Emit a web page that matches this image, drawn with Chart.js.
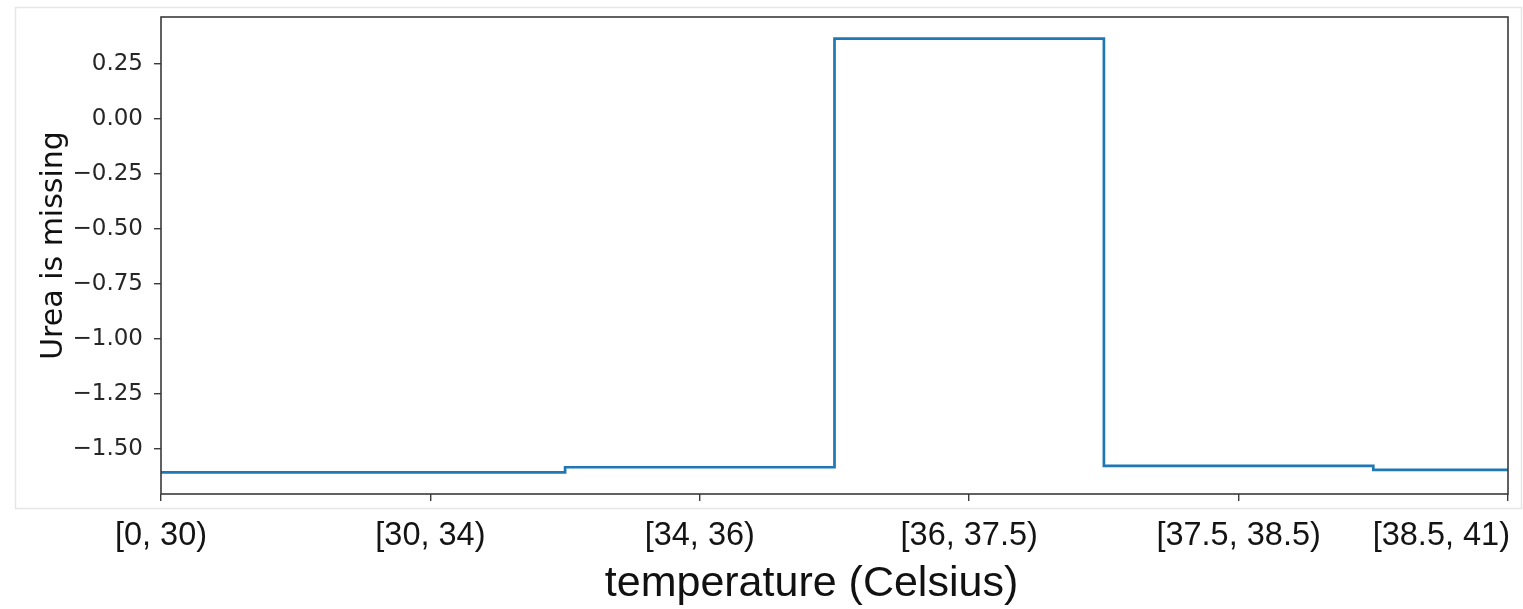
<!DOCTYPE html>
<html>
<head>
<meta charset="utf-8">
<title>Urea is missing vs temperature</title>
<script src="https://cdn.jsdelivr.net/npm/chart.js@4.4.0/dist/chart.umd.min.js"></script>
<style>
  html, body { margin: 0; padding: 0; background: #fff; }
  #wrap { width: 1523px; height: 609px; position: relative; }
  #grafica { display: block; }
</style>
</head>
<body>
<div id="wrap"><canvas id="grafica" width="1523" height="609"></canvas></div>
<script>
// categorias de temperatura y valores de la curva
const categorias = ['[0, 30)', '[30, 34)', '[34, 36)', '[36, 37.5)', '[37.5, 38.5)', '[38.5, 41)'];
const ureaMissing = [-1.608, -1.608, -1.585, 0.365, -1.579, -1.597];
const yTicks = [0.25, 0.00, -0.25, -0.50, -0.75, -1.00, -1.25, -1.50];
const tituloX = 'temperature (Celsius)';
const tituloY = 'Urea is missing';

// margen de 5% como matplotlib
const yMin = Math.min(...ureaMissing);
const yMax = Math.max(...ureaMissing);
const margen = (yMax - yMin) * 0.05;

const puntos = ureaMissing.map(function(v, i){ return {x: i, y: v}; });

// marco del eje, borde exterior, etiquetas y titulos
const marco = {
  id: 'marco',
  beforeDraw(chart) {
    const ctx = chart.ctx;
    ctx.save();
    ctx.strokeStyle = '#e6e6e6';
    ctx.lineWidth = 1.5;
    ctx.strokeRect(15.5, 7.5, 1506, 501);
    ctx.restore();
  },
  afterDraw(chart) {
    const ctx = chart.ctx;
    const a = chart.chartArea;
    ctx.save();
    ctx.strokeStyle = '#3a3a3a';
    ctx.lineWidth = 1.6;
    ctx.strokeRect(a.left, a.top, a.right - a.left, a.bottom - a.top);

    // etiquetas de categorias
    const xs = chart.scales.x;
    ctx.font = '32.5px "Liberation Sans", Arial, sans-serif';
    ctx.fillStyle = '#141414';
    ctx.textBaseline = 'alphabetic';
    ctx.textAlign = 'left';
    categorias.forEach(function(txt, i){
      const px = xs.getPixelForValue(i);
      const w = ctx.measureText(txt).width;
      let x0 = px - w / 2;
      if (x0 + w > a.right + 2) x0 = a.right + 2 - w;
      ctx.fillText(txt, x0, 545);
    });

    // titulo del eje x
    ctx.font = '43px "Liberation Sans", Arial, sans-serif';
    ctx.fillStyle = '#111';
    ctx.textAlign = 'center';
    ctx.fillText(tituloX, (a.left + a.right) / 2 - 23, 596);

    // titulo del eje y
    ctx.translate(62, (a.top + a.bottom) / 2 - 10);
    ctx.rotate(-Math.PI / 2);
    ctx.font = '30px "DejaVu Sans", sans-serif';
    ctx.fillText(tituloY, 0, 0);
    ctx.restore();
  }
};

const config = {
  type: 'line',
  data: {
    datasets: [{
      label: tituloY,
      data: puntos,
      stepped: 'middle',
      borderColor: '#1f77b4',
      borderWidth: 2.7,
      pointRadius: 0,
      fill: false
    }]
  },
  options: {
    responsive: false,
    animation: false,
    devicePixelRatio: 1,
    layout: { padding: { left: 0, top: 17, right: 15, bottom: 0 } },
    plugins: {
      legend: { display: false },
      tooltip: { enabled: false }
    },
    scales: {
      x: {
        type: 'linear',
        min: 0,
        max: categorias.length - 1,
        grid: { drawOnChartArea: false, drawTicks: true, tickLength: 7, color: '#3a3a3a', lineWidth: 1.4 },
        border: { display: false },
        ticks: { stepSize: 1, display: false },
        afterFit: function(scale){
          scale.height = 115;
          scale.paddingLeft = 0;
          scale.paddingRight = 0;
        }
      },
      y: {
        min: yMin - margen,
        max: yMax + margen,
        grid: { drawOnChartArea: false, drawTicks: true, tickLength: 7, color: '#3a3a3a', lineWidth: 1.4 },
        border: { display: false },
        afterBuildTicks: function(scale){
          scale.ticks = yTicks.map(function(v){ return {value: v}; });
        },
        ticks: {
          color: '#262626',
          padding: 11,
          font: { family: '"DejaVu Sans", sans-serif', size: 23 },
          callback: function(v){
            const s = Math.abs(v).toFixed(2);
            return v < -1e-9 ? '\u2212' + s : s;
          }
        },
        afterFit: function(scale){
          scale.width = 161;
          scale.paddingTop = 0;
          scale.paddingBottom = 0;
        }
      }
    }
  },
  plugins: [marco]
};

const grafica = new Chart(document.getElementById('grafica').getContext('2d'), config);
</script>
</body>
</html>
